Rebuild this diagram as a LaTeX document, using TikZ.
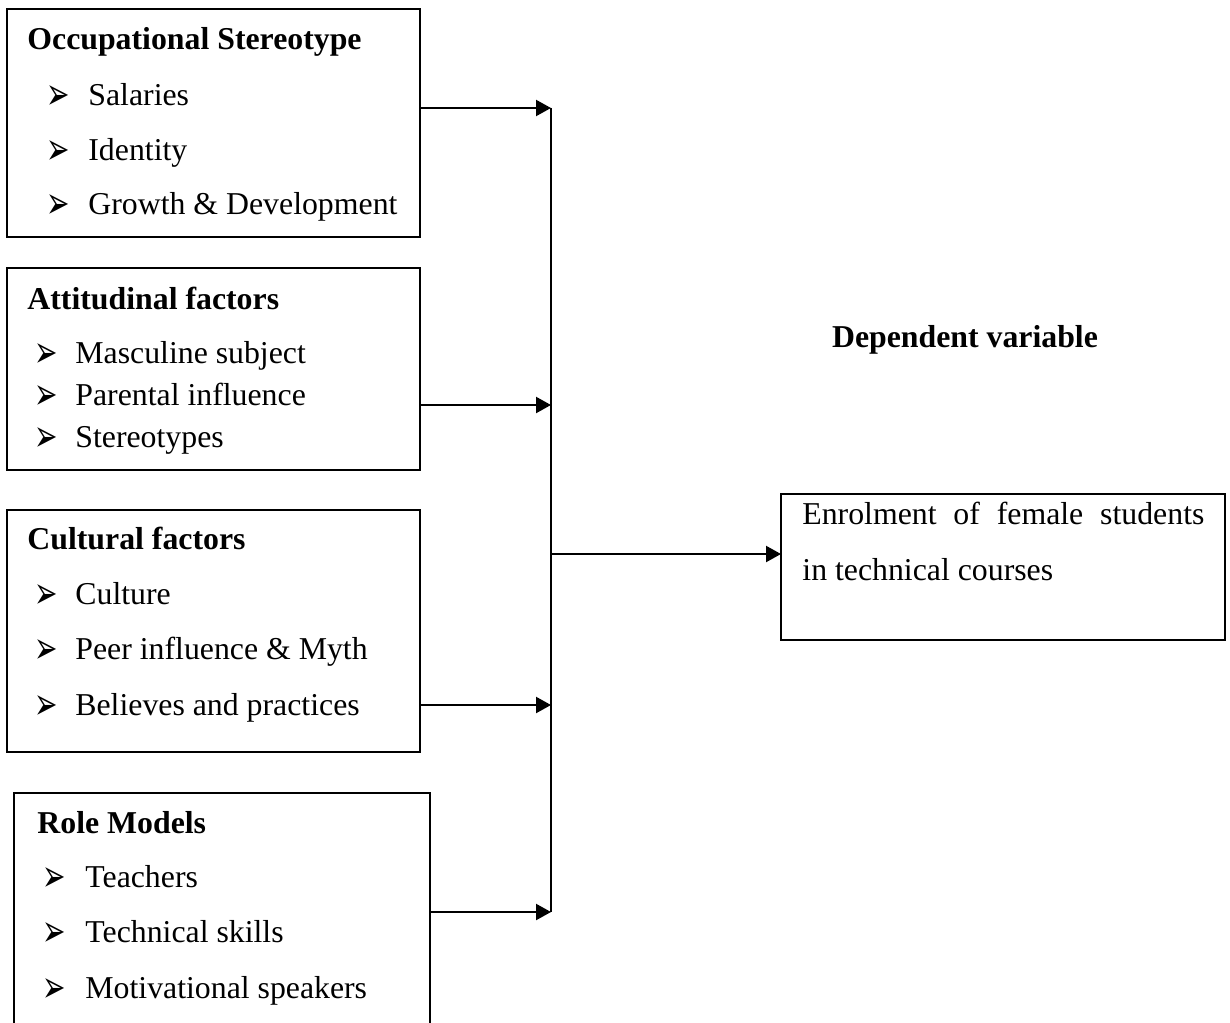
\documentclass[tikz,border=0pt]{standalone}
\usepackage{fontspec}
\usepackage{graphicx}
\setmainfont{Liberation Serif}
\newfontfamily\dejavu{DejaVu Sans}
\usetikzlibrary{arrows.meta}
\newcommand{\bul}[1]{\makebox[#1][l]{\raisebox{-2.2pt}{\scalebox{1}[1.6]{\dejavu\bfseries\fontsize{14}{14}\selectfont ➢}}}}
\tikzset{
  box/.style={draw, line width=1pt, inner sep=0pt, outer sep=0pt},
  txt/.style={anchor=base west, inner sep=0pt, font=\fontsize{15.9}{19}\selectfont},
  ttl/.style={txt, font=\fontsize{15.9}{19}\selectfont\bfseries},
  arr/.style={line width=1.1pt, -{Triangle[length=7.5pt,width=8pt]}},
  conn/.style={line width=1pt}
}
\begin{document}
\begin{tikzpicture}[x=0.5pt,y=-0.5pt]
\useasboundingbox (0,0) rectangle (1230,1022);
\clip (0,0) rectangle (1230,1022);
% boxes
\node[box, minimum width=206.5pt, minimum height=114pt] (b1) at (213.5,123) {};
\node[box, minimum width=206.5pt, minimum height=101pt] (b2) at (213.5,369) {};
\node[box, minimum width=206.5pt, minimum height=121pt] (b3) at (213.5,631) {};
\node[box, minimum width=208pt, minimum height=123.5pt] (b4) at (222,916.5) {};
\node[box, minimum width=222pt, minimum height=73pt] (out) at (1003,567) {};
% box 1
\node[ttl] (t1) at (27,50) {Occupational Stereotype};
\node[txt] (t1a) at (46,105) {\bul{21pt}Salaries};
\node[txt] (t1b) at (46,160) {\bul{21pt}Identity};
\node[txt] (t1c) at (46,214) {\bul{21pt}Growth \& Development};
% box 2
\node[ttl] (t2) at (27,309) {Attitudinal factors};
\node[txt] (t2a) at (34,363) {\bul{20.5pt}Masculine subject};
\node[txt] (t2b) at (34,405) {\bul{20.5pt}Parental influence};
\node[txt] (t2c) at (34,447) {\bul{20.5pt}Stereotypes};
% box 3
\node[ttl] (t3) at (27,549) {Cultural factors};
\node[txt] (t3a) at (34,604) {\bul{20.5pt}Culture};
\node[txt] (t3b) at (34,659) {\bul{20.5pt}Peer influence \& Myth};
\node[txt] (t3c) at (34,715) {\bul{20.5pt}Believes and practices};
% box 4
\node[ttl] (t4) at (37,833) {Role Models};
\node[txt] (t4a) at (42,887) {\bul{21.5pt}Teachers};
\node[txt] (t4b) at (42,942) {\bul{21.5pt}Technical skills};
\node[txt] (t4c) at (42,998) {\bul{21.5pt}Motivational speakers};
% outcome
\node[txt] (o1) at (802,524) {\makebox[201pt][s]{Enrolment of female students}};
\node[txt] (o2) at (802,580) {in technical courses};
\node[ttl, anchor=base] (dv) at (965,347) {Dependent variable};
% connectors
\coordinate (j1) at (551,108);
\coordinate (j2) at (551,405);
\coordinate (j3) at (551,705);
\coordinate (j4) at (551,912);
\coordinate (jm) at (551,554);
\draw[conn] (j1) -- (j4);
\draw[arr] (b1.east |- j1) -- (j1);
\draw[arr] (b2.east |- j2) -- (j2);
\draw[arr] (b3.east |- j3) -- (j3);
\draw[arr] (b4.east |- j4) -- (j4);
\draw[arr] (jm) -- (jm -| out.west);
\end{tikzpicture}
\end{document}
